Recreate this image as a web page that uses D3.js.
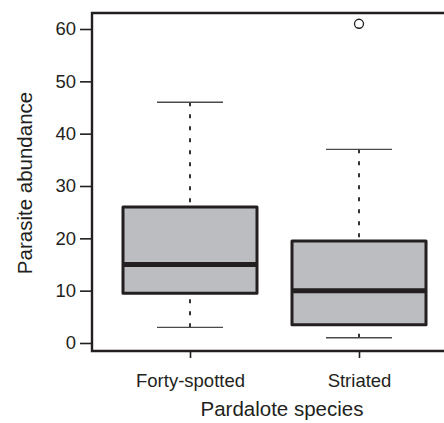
<!DOCTYPE html>
<html>
<head>
<meta charset="utf-8">
<script src="https://cdn.jsdelivr.net/npm/d3@7"></script>
<style>
  html, body { margin: 0; padding: 0; background: #fff; }
  svg { display: block; font-family: "Liberation Sans", Arial, sans-serif; }
</style>
</head>
<body>
<div id="chart"></div>
<script>
// --- data ---
const species = ["Forty-spotted", "Striated"];
const whiskerLow = [3, 1];
const q1 = [9.5, 3.5];
const median = [15, 10];
const q3 = [26, 19.5];
const whiskerHigh = [46, 37];
const outliers = [[], [61]];
const yTicks = [0, 10, 20, 30, 40, 50, 60];

const width = 444, height = 423;
const svg = d3.select("#chart").append("svg")
    .attr("width", width)
    .attr("height", height);

const y = d3.scaleLinear().domain([0, 60]).range([343, 29]);
const x = d3.scalePoint().domain(species).range([190, 359]);
const boxHalf = 67;
const capHalf = 33;
const ink = "#231f20";
const font = "Liberation Sans, Arial, sans-serif";

// frame: left, top, bottom (runs off the right edge)
const frameLeft = 92, frameTop = 13, frameBottom = 351;
svg.append("path")
    .attr("d", `M${width},${frameTop}H${frameLeft}V${frameBottom}H${width}`)
    .attr("fill", "none")
    .attr("stroke", ink)
    .attr("stroke-width", 2.4);

// y axis
const yAxis = svg.append("g")
    .attr("transform", `translate(${frameLeft},0)`)
    .call(d3.axisLeft(y).tickValues(yTicks).tickSize(12).tickPadding(4));
yAxis.select(".domain").remove();
yAxis.selectAll(".tick line").attr("stroke", ink).attr("stroke-width", 1.6);
yAxis.selectAll(".tick text").attr("fill", ink)
    .style("font-size", "18.5px").style("font-family", font);

// x axis
const xAxis = svg.append("g")
    .attr("transform", `translate(0,${frameBottom})`)
    .call(d3.axisBottom(x).tickSize(7).tickPadding(16));
xAxis.select(".domain").remove();
xAxis.selectAll(".tick line").attr("stroke", ink).attr("stroke-width", 1.6);
xAxis.selectAll(".tick text").attr("fill", ink)
    .style("font-size", "18.5px").style("font-family", font);

// axis titles
svg.append("text")
    .attr("x", 282).attr("y", 416)
    .attr("text-anchor", "middle")
    .attr("fill", ink)
    .style("font-size", "20.5px").style("font-family", font)
    .text("Pardalote species");
svg.append("text")
    .attr("transform", "translate(32,183) rotate(-90)")
    .attr("text-anchor", "middle")
    .attr("fill", ink)
    .style("font-size", "20.5px").style("font-family", font)
    .text("Parasite abundance");

const boxes = svg.append("g").selectAll("g")
    .data(species.map((s, i) => ({
        s, lo: whiskerLow[i], q1: q1[i], med: median[i], q3: q3[i], hi: whiskerHigh[i], out: outliers[i]
    })))
    .join("g");

// whiskers (dashed, drawn from the cap toward the box)
boxes.append("line")
    .attr("x1", d => x(d.s)).attr("x2", d => x(d.s))
    .attr("y1", d => y(d.hi)).attr("y2", d => y(d.q3))
    .attr("stroke", "#333").attr("stroke-width", 2)
    .attr("stroke-dasharray", "4,8");
boxes.append("line")
    .attr("x1", d => x(d.s)).attr("x2", d => x(d.s))
    .attr("y1", d => y(d.lo)).attr("y2", d => y(d.q1))
    .attr("stroke", "#333").attr("stroke-width", 2)
    .attr("stroke-dasharray", "4,8");
boxes.append("line")
    .attr("x1", d => x(d.s) - capHalf).attr("x2", d => x(d.s) + capHalf)
    .attr("y1", d => y(d.hi)).attr("y2", d => y(d.hi))
    .attr("stroke", "#4a4a4a").attr("stroke-width", 1.3);
boxes.append("line")
    .attr("x1", d => x(d.s) - capHalf).attr("x2", d => x(d.s) + capHalf)
    .attr("y1", d => y(d.lo)).attr("y2", d => y(d.lo))
    .attr("stroke", "#4a4a4a").attr("stroke-width", 1.3);

// box
boxes.append("rect")
    .attr("x", d => x(d.s) - boxHalf)
    .attr("width", boxHalf * 2)
    .attr("y", d => y(d.q3))
    .attr("height", d => y(d.q1) - y(d.q3))
    .attr("fill", "#bcbdc0")
    .attr("stroke", ink).attr("stroke-width", 3)
    .attr("stroke-linejoin", "round");

// median
boxes.append("line")
    .attr("x1", d => x(d.s) - boxHalf).attr("x2", d => x(d.s) + boxHalf)
    .attr("y1", d => y(d.med)).attr("y2", d => y(d.med))
    .attr("stroke", ink).attr("stroke-width", 5);

// outliers
boxes.selectAll("circle")
    .data(d => d.out.map(v => ({ s: d.s, v })))
    .join("circle")
    .attr("cx", d => x(d.s)).attr("cy", d => y(d.v))
    .attr("r", 4.5)
    .attr("fill", "#fff")
    .attr("stroke", ink).attr("stroke-width", 1.3);
</script>
</body>
</html>
